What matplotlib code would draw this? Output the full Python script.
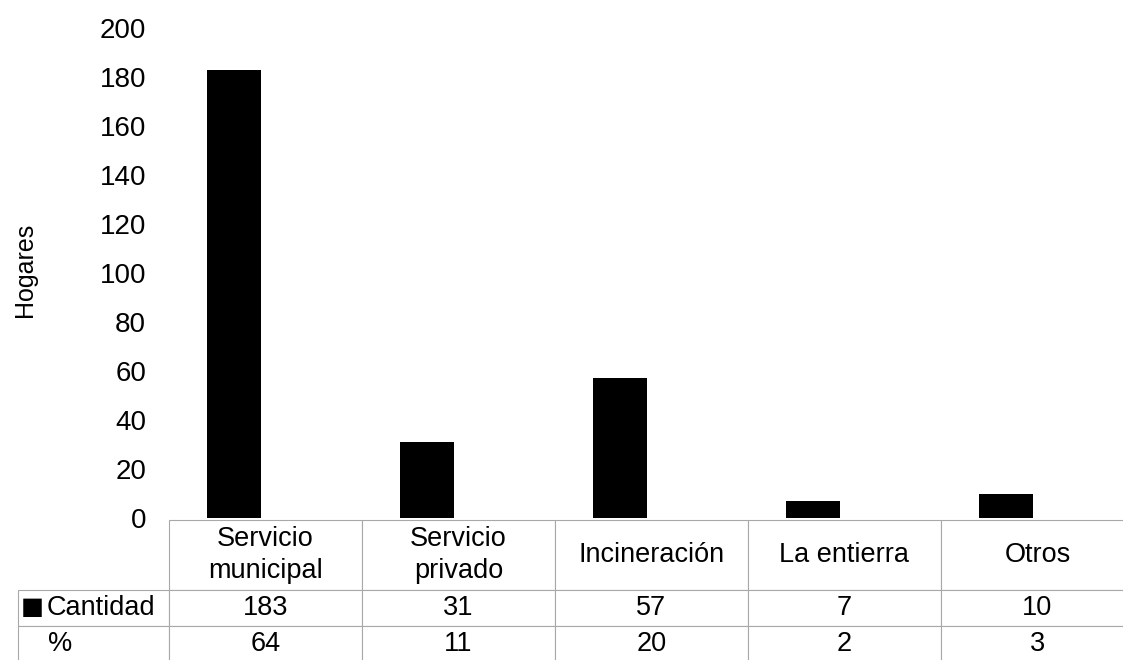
import matplotlib
matplotlib.use("Agg")
import matplotlib.pyplot as plt

categories = ["Servicio\nmunicipal", "Servicio\nprivado", "Incineración", "La entierra", "Otros"]
cantidad = [183, 31, 57, 7, 10]
porcentaje = [64, 11, 20, 2, 3]
yticks = [0, 20, 40, 60, 80, 100, 120, 140, 160, 180, 200]

plt.rcParams['font.family'] = ['Liberation Sans', 'DejaVu Sans']

W, H = 1123, 660
fig = plt.figure(figsize=(W / 100, H / 100), dpi=100)
ax_l, ax_r = 169, 1123
ax_b, ax_t = 518, 28  # pixel rows from top
ax = fig.add_axes([ax_l / W, (H - ax_b) / H, (ax_r - ax_l) / W, (ax_b - ax_t) / H])

unit = 193.0  # px per category
x0 = (234 - ax_l) / unit
xs = list(range(len(categories)))
ax.bar(xs, cantidad, width=54 / unit, color="black")
ax.set_xlim(-x0, -x0 + (ax_r - ax_l) / unit)
ax.set_ylim(0, 200)
ax.set_yticks(yticks)
ax.set_yticklabels([str(v) for v in yticks], fontsize=20)
ax.tick_params(axis="y", length=0, pad=16.5)
ax.set_xticks([])
for s in ax.spines.values():
    s.set_visible(False)
fig.text(25 / W, 1 - 270 / H, "Hogares", rotation=90, fontsize=18,
         ha="center", va="center")

# data table
axw = ax_r - ax_l
axh = ax_b - ax_t
label_w = 169 - 18
cell_text = [[""] + categories,
             ["Cantidad"] + [str(v) for v in cantidad],
             ["%"] + [str(v) for v in porcentaje]]
col_w = [label_w] + [unit] * len(categories)
tbl = ax.table(cellText=cell_text, colWidths=[c / sum(col_w) for c in col_w],
               cellLoc="center",
               bbox=[-label_w / axw, (ax_b - 662) / axh,
                     (label_w + unit * len(categories)) / axw, (662 - 520) / axh])
tbl.auto_set_font_size(False)
row_h = [70, 36, 36]
edge = "#a8a8a8"
for (r, c), cell in tbl.get_celld().items():
    cell.set_height(row_h[r])
    cell.set_edgecolor(edge)
    cell.set_linewidth(0.8)
    cell.get_text().set_fontsize(19.5)
    if r == 0 and c == 0:
        cell.visible_edges = ""
    if r == 0:
        cell.get_text().set_linespacing(1.25)
    if c == 0 and r > 0:
        cell.get_text().set_ha("left")
        cell._loc = "left"
        cell.PAD = 0.19 if r == 1 else 0.20
# legend key square in the "Cantidad" row label
fig.text(21 / W, 1 - 607 / H, "■", fontsize=17.5, family="DejaVu Sans",
         ha="left", va="center")

fig.savefig("out.png", dpi=100)
